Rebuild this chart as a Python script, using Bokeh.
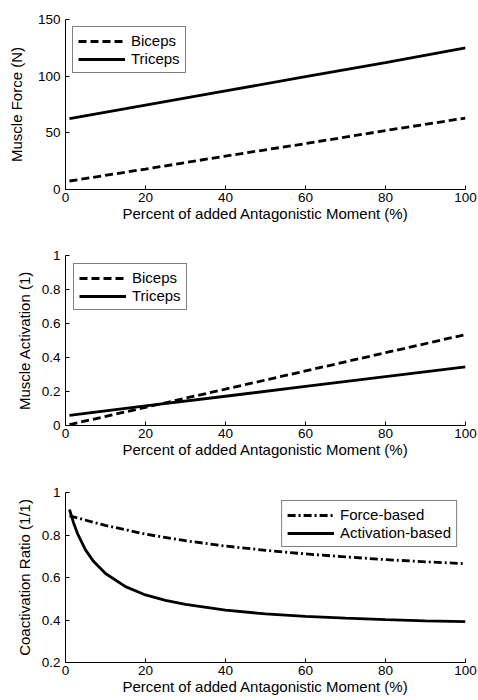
from bokeh.plotting import figure
from bokeh.layouts import column
from bokeh.models import Range1d, Legend, LegendItem, CustomJSTickFormatter, FixedTicker
from bokeh.embed import file_html
from bokeh.resources import INLINE

# ---- data ----
x_lin = [1, 20, 40, 60, 80, 100]
biceps_force = [7.5, 18.0, 29.5, 40.5, 52.0, 63.0]
triceps_force = [62.5, 74.5, 87.0, 99.5, 112.0, 125.0]
biceps_act = [0.005, 0.107, 0.214, 0.321, 0.428, 0.535]
triceps_act = [0.06, 0.115, 0.172, 0.23, 0.288, 0.345]

x_force_ratio = [1, 10, 20, 30, 40, 50, 60, 70, 80, 90, 100]
force_ratio = [0.89, 0.845, 0.804, 0.773, 0.748, 0.728, 0.711, 0.697, 0.684, 0.674, 0.665]
x_act_ratio = [1, 2, 3, 5, 7, 10, 15, 20, 25, 30, 40, 50, 60, 70, 80, 90, 100]
act_ratio = [0.92, 0.858, 0.807, 0.73, 0.676, 0.619, 0.557, 0.518, 0.492, 0.473, 0.446,
             0.429, 0.417, 0.409, 0.402, 0.396, 0.392]

x_ticks = [0, 20, 40, 60, 80, 100]
y1_ticks = [0, 50, 100, 150]
y2_ticks = [0, 0.2, 0.4, 0.6, 0.8, 1.0]
y3_ticks = [0.2, 0.4, 0.6, 0.8, 1.0]
x_label = "Percent of added Antagonistic Moment (%)"

FONT = "Liberation Sans"
LW = 2.8


def make_fig(height, top, bottom, yr, yticks, ylabel, ystandoff):
    p = figure(width=478, height=height, output_backend="svg", toolbar_location=None,
               x_range=Range1d(0, 100), y_range=Range1d(*yr),
               min_border_left=65, min_border_right=13,
               min_border_top=top, min_border_bottom=bottom)
    p.outline_line_color = None
    p.xgrid.visible = False
    p.ygrid.visible = False
    p.background_fill_color = "white"
    p.border_fill_color = "white"
    for ax in (p.xaxis[0], p.yaxis[0]):
        ax.major_tick_in = 4
        ax.major_tick_out = 0
        ax.minor_tick_line_color = None
        ax.axis_line_color = "black"
        ax.major_tick_line_color = "black"
        ax.major_label_text_font = FONT
        ax.major_label_text_font_size = "13.5px"
        ax.major_label_text_color = "black"
        ax.axis_label_text_font = FONT
        ax.axis_label_text_font_size = "15px"
        ax.axis_label_text_font_style = "normal"
        ax.axis_label_text_color = "black"
    p.xaxis.ticker = FixedTicker(ticks=x_ticks)
    p.yaxis.ticker = FixedTicker(ticks=yticks)
    p.yaxis.formatter = CustomJSTickFormatter(code="return String(Math.round(tick*10)/10);")
    p.xaxis.axis_label = x_label
    p.yaxis.axis_label = ylabel
    p.xaxis.major_label_standoff = 3
    p.xaxis.axis_label_standoff = 0
    p.yaxis.major_label_standoff = 5
    p.yaxis.axis_label_standoff = ystandoff
    return p


def style_legend(lg):
    lg.border_line_color = "black"
    lg.border_line_width = 1
    lg.background_fill_color = "white"
    lg.background_fill_alpha = 1
    lg.label_text_font = FONT
    lg.label_text_font_size = "15px"
    lg.label_text_color = "black"
    lg.glyph_width = 47
    lg.glyph_height = 16
    lg.label_height = 16
    lg.padding = 5
    lg.spacing = 1
    lg.label_standoff = 6


# Panel 1
p1 = make_fig(234, 19, 45, (0, 150), y1_ticks, "Muscle Force (N)", 10)
r1 = p1.line(x_lin, biceps_force, line_color="black", line_width=LW, line_dash="8 4")
r2 = p1.line(x_lin, triceps_force, line_color="black", line_width=LW)
lg1 = Legend(items=[LegendItem(label="Biceps", renderers=[r1]),
                    LegendItem(label="Triceps", renderers=[r2])],
             location="top_left", margin=7)
style_legend(lg1)
p1.add_layout(lg1, "center")

# Panel 2
p2 = make_fig(234, 21, 43, (0, 1), y2_ticks, "Muscle Activation (1)", 6)
r3 = p2.line(x_lin, biceps_act, line_color="black", line_width=LW, line_dash="8 4")
r4 = p2.line(x_lin, triceps_act, line_color="black", line_width=LW)
lg2 = Legend(items=[LegendItem(label="Biceps", renderers=[r3]),
                    LegendItem(label="Triceps", renderers=[r4])],
             location="top_left", margin=8)
style_legend(lg2)
p2.add_layout(lg2, "center")

# Panel 3
p3 = make_fig(232, 24, 38, (0.2, 1), y3_ticks, "Coactivation Ratio (1/1)", 6)
r5 = p3.line(x_force_ratio, force_ratio, line_color="black", line_width=LW, line_dash="8 3 2 3")
r6 = p3.line(x_act_ratio, act_ratio, line_color="black", line_width=LW)
lg3 = Legend(items=[LegendItem(label="Force-based", renderers=[r5]),
                    LegendItem(label="Activation-based", renderers=[r6])],
             location="top_right", margin=8)
style_legend(lg3)
p3.add_layout(lg3, "center")

layout = column(p1, p2, p3, spacing=0)
open("out.html", "w").write(file_html(layout, INLINE))
